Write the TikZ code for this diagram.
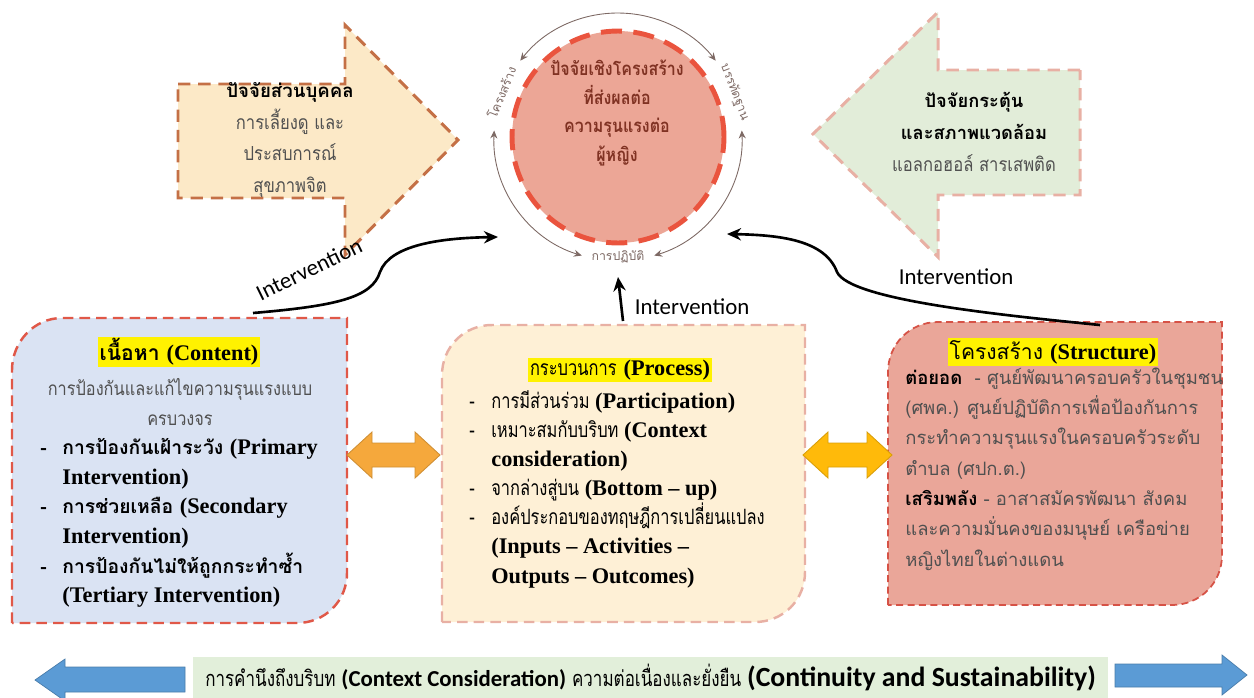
\documentclass[tikz,border=0pt]{standalone}
\usepackage{fontspec}
\setmainfont{Loma}[Script=Thai]
\newfontfamily\thainarrow{Loma}[Script=Thai,FakeStretch=0.78]
\newfontfamily\thaimid{Loma}[Script=Thai,FakeStretch=0.86]
\newfontfamily\serifen{Liberation Serif}
\newfontfamily\calfont{Carlito}
\usetikzlibrary{arrows.meta}
\definecolor{peach}{RGB}{252,233,199}
\definecolor{sienna}{RGB}{196,112,70}
\definecolor{sage}{RGB}{226,237,217}
\definecolor{rose}{RGB}{232,176,164}
\definecolor{salmon}{RGB}{236,166,150}
\definecolor{circred}{RGB}{234,84,62}
\definecolor{brownred}{RGB}{128,50,35}
\definecolor{lavender}{RGB}{218,227,243}
\definecolor{boxred}{RGB}{224,88,72}
\definecolor{cream}{RGB}{254,240,214}
\definecolor{structfill}{RGB}{234,166,153}
\definecolor{structred}{RGB}{214,82,70}
\definecolor{bandgreen}{RGB}{226,239,218}
\definecolor{arrowblue}{RGB}{91,155,213}
\definecolor{orangeA}{RGB}{245,168,60}
\definecolor{orangeB}{RGB}{255,186,10}
\definecolor{textgray}{RGB}{80,80,80}
\definecolor{ringgray}{RGB}{125,105,100}
\newcommand{\eng}[1]{{\serifen\bfseries\fontsize{12.7}{16}\selectfont #1}}
\newcommand{\bl}{\makebox[0.44cm][l]{-}}
\newcommand{\ind}{\hspace*{0.44cm}}
\begin{document}
\begin{tikzpicture}[x=0.02cm, y=-0.02cm,
  ringlbl/.style={text=ringgray, font=\fontsize{7}{8}\selectfont, inner sep=1pt},
  ring/.style={{Stealth[length=4.5pt,width=4pt]}-{Stealth[length=4.5pt,width=4pt]}, draw=ringgray, line width=0.5pt},
  interv/.style={-{Stealth[length=8pt,width=7pt]}, line width=1.5pt},
  intlbl/.style={font=\calfont\fontsize{13}{15}\selectfont},
  head/.style={fill=yellow, inner sep=1pt},
  dashbox/.style={line width=1.4pt, dash pattern=on 6pt off 3.5pt}]

\useasboundingbox (0,0) rectangle (1254,697);

\filldraw[fill=peach, draw=sienna, line width=1.7pt, dash pattern=on 7pt off 4.5pt]
  (178,84) -- (345,84) -- (345,25) -- (458,140) -- (345,255) -- (345,198) -- (178,198) -- cycle;
\node[align=center, text=textgray, font=\thaimid\fontsize{11}{18}\selectfont] (pers) at (290,140)
  {\textcolor{black}{\normalfont\bfseries\fontsize{10.6}{18}\selectfont ปัจจัยส่วนบุคคล}\\การเลี้ยงดู และ\\ประสบการณ์\\สุขภาพจิต};

\filldraw[fill=sage, draw=rose, line width=1.7pt, dash pattern=on 7pt off 4.5pt]
  (1080,70) -- (938,70) -- (938,12) -- (813,134) -- (938,257) -- (938,195) -- (1080,195) -- cycle;
\node[align=center, text=textgray, font=\thaimid\fontsize{11}{18}\selectfont] (env) at (974,132)
  {\textcolor{black}{\normalfont\bfseries\fontsize{10.4}{18}\selectfont ปัจจัยกระตุ้น}\\\textcolor{black}{\normalfont\bfseries\fontsize{10.4}{18}\selectfont และสภาพแวดล้อม}\\แอลกอฮอล์ สารเสพติด};

\node[circle, minimum size=4.24cm, fill=salmon, draw=circred, line width=2.8pt, dash pattern=on 12pt off 6.5pt] (C) at (618,137) {};
\node[align=center, text=brownred, font=\thaimid\bfseries\fontsize{10.6}{16.4}\selectfont] (ctext) at (617,113)
  {ปัจจัยเชิงโครงสร้าง\\ที่ส่งผลต่อ\\ความรุนแรงต่อ\\ผู้หญิง};

\node[ringlbl, rotate=68] (lstr) at ([shift={(159:2.5cm)}]C.center) {โครงสร้าง};
\node[ringlbl, rotate=-69] (lnorm) at ([shift={(21:2.5cm)}]C.center) {บรรทัดฐาน};
\node[ringlbl] (lprac) at ([shift={(270:2.4cm)}]C.center) {การปฏิบัติ};
\coordinate (r1) at ([shift={(142:2.48cm)}]C.center);
\coordinate (r2) at ([shift={(177:2.48cm)}]C.center);
\coordinate (r3) at ([shift={(3:2.48cm)}]C.center);
\draw[ring] (r1) arc[start angle=142, end angle=38, radius=2.48cm];
\draw[ring] (r2) arc[start angle=177, end angle=253, radius=2.48cm];
\draw[ring] (r3) arc[start angle=3, end angle=-73, radius=2.48cm];

\filldraw[fill=lavender, draw=boxred, dashbox]
  (12,623) -- (12,370) .. controls (12,342) and (34,318) .. (62,318) -- (347,318)
  -- (347,573) .. controls (347,601) and (325,623) .. (297,623) -- cycle;
\node[head, font=\bfseries\fontsize{12}{15}\selectfont] (cont) at (179,352) {เนื้อหา \eng{(Content)}};
\node[align=center, text=textgray, font=\thaimid\fontsize{10.8}{17}\selectfont] (contsub) at (180,402)
  {การป้องกันและแก้ไขความรุนแรงแบบ\\ครบวงจร};
\node[anchor=west, align=left, inner sep=0pt, font=\bfseries\fontsize{11}{16.9}\selectfont] (contlist) at (40,523)
  {\bl การป้องกันเฝ้าระวัง \eng{(Primary}\\\ind\eng{Intervention)}\\
   \bl การช่วยเหลือ \eng{(Secondary}\\\ind\eng{Intervention)}\\
   \bl การป้องกันไม่ให้ถูกกระทำซ้ำ\\\ind\eng{(Tertiary Intervention)}};

\filldraw[fill=cream, draw=rose, dashbox]
  (442,622) -- (442,375) .. controls (442,347) and (464,325) .. (492,325) -- (805,325)
  -- (805,572) .. controls (805,600) and (783,622) .. (755,622) -- cycle;
\node[head, font=\fontsize{12}{15}\selectfont] (proc) at (620,370) {{\thainarrow กระบวนการ} \eng{(Process)}};
\node[anchor=west, align=left, inner sep=0pt, font=\thainarrow\fontsize{12}{16.6}\selectfont] (proclist) at (469,489)
  {\bl การมีส่วนร่วม \eng{(Participation)}\\
   \bl เหมาะสมกับบริบท \eng{(Context}\\\ind\eng{consideration)}\\
   \bl จากล่างสู่บน \eng{(Bottom – up)}\\
   \bl องค์ประกอบของทฤษฎีการเปลี่ยนแปลง\\\ind\eng{(Inputs – Activities –}\\\ind\eng{Outputs – Outcomes)}};

\filldraw[fill=structfill, draw=structred, line width=1pt, dash pattern=on 4pt off 2.5pt]
  (888,605) -- (888,372) .. controls (888,344) and (910,322) .. (938,322) -- (1222,322)
  -- (1222,555) .. controls (1222,583) and (1200,605) .. (1172,605) -- cycle;
\node[head, font=\fontsize{12}{15}\selectfont] (struct) at (1053,352) {โครงสร้าง \eng{(Structure)}};
\node[anchor=west, align=left, inner sep=0pt, text=textgray, font=\fontsize{10.5}{17.3}\selectfont] (structlist) at (905,469)
  {\textcolor{black}{\bfseries ต่อยอด}\ \ - ศูนย์พัฒนาครอบครัวในชุมชน\\
   (ศพค.) ศูนย์ปฏิบัติการเพื่อป้องกันการ\\
   กระทำความรุนแรงในครอบครัวระดับ\\
   ตำบล (ศปก.ต.)\\
   \textcolor{black}{\bfseries เสริมพลัง} - อาสาสมัครพัฒนา สังคม\\
   และความมั่นคงของมนุษย์ เครือข่าย\\
   หญิงไทยในต่างแดน};

\filldraw[fill=orangeA, draw=orangeA!85!black, line width=0.5pt]
  (347,455) -- (372,432) -- (372,443) -- (415,443) -- (415,432) -- (440,455)
  -- (415,478) -- (415,467) -- (372,467) -- (372,478) -- cycle;
\filldraw[fill=orangeB, draw=orangeB!85!black, line width=0.5pt]
  (803,455) -- (828,432) -- (828,443) -- (867,443) -- (867,432) -- (892,455)
  -- (867,478) -- (867,467) -- (828,467) -- (828,478) -- cycle;

\coordinate (iLs) at (253,313);
\coordinate (iLe) at (498,237);
\draw[interv] (iLs) .. controls (335,306) and (372,298) .. (380,272) .. controls (390,245) and (440,238) .. (iLe);
\node[intlbl, rotate=26] (iLl) at (309,269) {Intervention};
\coordinate (iMs) at (623,321);
\draw[interv] (iMs) -- (lprac.south |- 0,277);
\node[intlbl] (iMl) at (692,307) {Intervention};
\coordinate (iRs) at (1100,325);
\coordinate (iRe) at (727,234);
\draw[interv] (iRs) .. controls (1000,315) and (850,300) .. (837,272) .. controls (825,240) and (780,235) .. (iRe);
\node[intlbl] (iRl) at (956,277) {Intervention};

\node[fill=bandgreen, minimum width=18.3cm, minimum height=0.82cm, inner sep=0pt] (band) at (650.5,677)
  {{\thainarrow\fontsize{12.4}{14}\selectfont การคำนึงถึงบริบท} {\calfont\bfseries\fontsize{13}{14}\selectfont (Context Consideration)}
   {\thainarrow\fontsize{12.4}{14}\selectfont ความต่อเนื่องและยั่งยืน} {\calfont\bfseries\fontsize{15.8}{16}\selectfont (Continuity and Sustainability)}};
\filldraw[fill=arrowblue, draw=arrowblue!80!black, line width=0.4pt]
  (185,667) -- (65,667) -- (65,659) -- (35,680) -- (65,701) -- (65,692) -- (185,692) -- cycle;
\filldraw[fill=arrowblue, draw=arrowblue!80!black, line width=0.4pt]
  (1115,664) -- (1222,664) -- (1222,655) -- (1247,675) -- (1222,695) -- (1222,687) -- (1115,687) -- cycle;
\end{tikzpicture}
\end{document}
